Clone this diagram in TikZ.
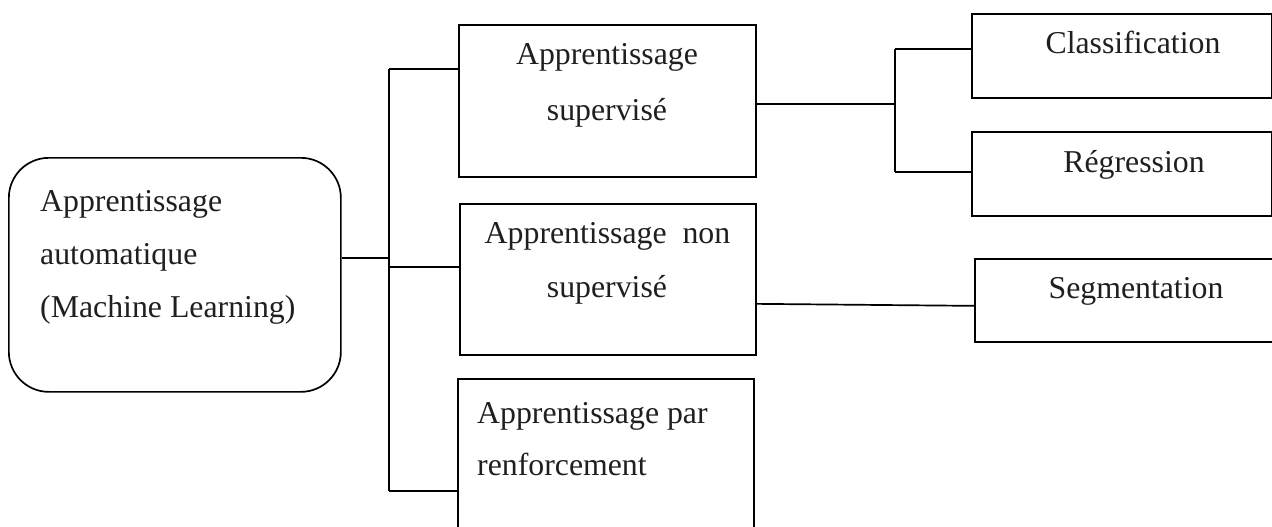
\documentclass[tikz,border=0pt]{standalone}
\usepackage{fontspec}
\setmainfont{Liberation Serif}
\begin{document}
\begin{tikzpicture}[x=1pt,y=-1pt,
  box/.style={draw=black,line width=1.7pt,rectangle,inner sep=0pt,anchor=north west},
  rbox/.style={box,rounded corners=40pt},
  lbl/.style={inner sep=0pt,text=black!88,font=\fontsize{31.8}{38}\selectfont},
  conn/.style={draw=black,line width=1.7pt}]
\useasboundingbox (0,0) rectangle (1272,527);
\clip (0,0) rectangle (1272,527);
% boxes
\node[rbox,minimum width=332pt,minimum height=234pt] (root) at (8,157) {};
\node[box,minimum width=297pt,minimum height=152pt] (sup) at (458,24) {};
\node[box,minimum width=296pt,minimum height=151pt] (nsup) at (459,203) {};
\node[box,minimum width=296pt,minimum height=182pt] (renf) at (457,378) {};
\node[box,minimum width=300pt,minimum height=84pt] (cls) at (971,13) {};
\node[box,minimum width=300pt,minimum height=84pt] (reg) at (971,131) {};
\node[box,minimum width=316pt,minimum height=83pt] (seg) at (974,258) {};
% texts
\node[lbl,anchor=base west] (r1) at (40,211) {Apprentissage};
\node[lbl,anchor=base west] (r2) at (40,264) {automatique};
\node[lbl,anchor=base west] (r3) at (40,317) {(Machine Learning)};
\node[lbl,anchor=base] (s1) at (607,65) {Apprentissage};
\node[lbl,anchor=base] (s2) at (607,120) {supervisé};
\node[lbl,anchor=base] (n1) at (607.5,243) {Apprentissage\ \ non};
\node[lbl,anchor=base] (n2) at (607,297) {supervisé};
\node[lbl,anchor=base west] (p1) at (477,423) {Apprentissage par};
\node[lbl,anchor=base west] (p2) at (477,475) {renforcement};
\node[lbl,anchor=base] (c1) at (1133,54) {Classification};
\node[lbl,anchor=base] (g1) at (1134,172) {Régression};
\node[lbl,anchor=base] (m1) at (1136,298) {Segmentation};
% junction coordinates
\coordinate (jr) at (389,258);
\coordinate (t1) at (389,69);
\coordinate (t2) at (389,267);
\coordinate (t3) at (389,491);
\coordinate (j2) at (895,104);
\coordinate (k1) at (895,49);
\coordinate (k2) at (895,172);
% connectors
\draw[conn] (jr -| root.east) -- (jr);
\draw[conn] (t1) -- (t3);
\draw[conn] (t1) -- (t1 -| sup.west);
\draw[conn] (t2) -- (t2 -| nsup.west);
\draw[conn] (t3) -- (t3 -| renf.west);
\draw[conn] (j2 -| sup.east) -- (j2);
\draw[conn] (k1) -- (k2);
\draw[conn] (k1) -- (k1 -| cls.west);
\draw[conn] (k2) -- (k2 -| reg.west);
\draw[conn] ([yshift=-24.5pt]nsup.east) -- ([yshift=-5.5pt]seg.west);
\end{tikzpicture}
\end{document}
